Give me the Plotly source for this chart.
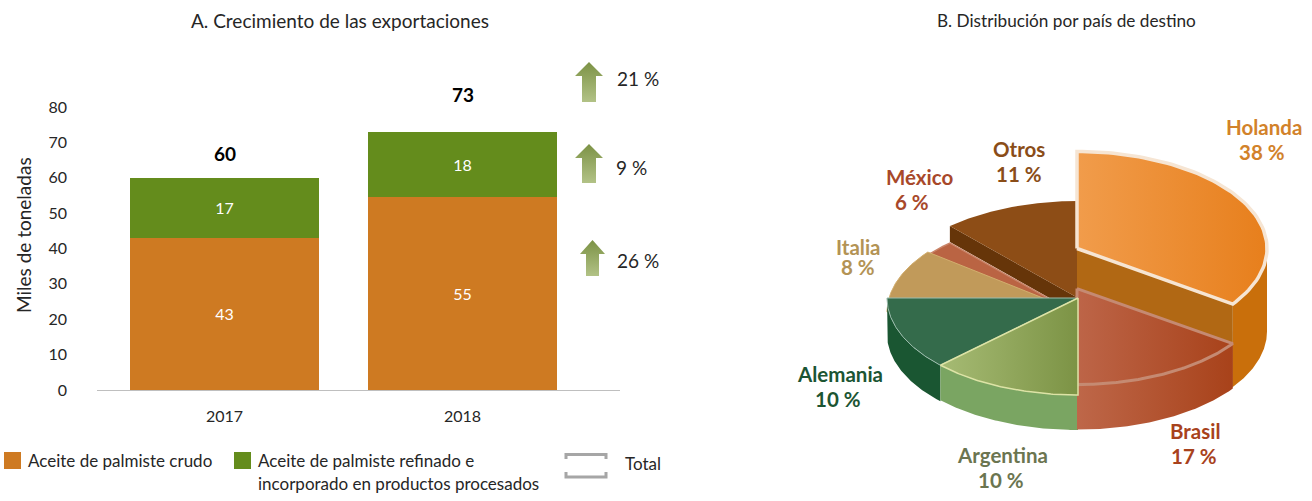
import numpy as np
import plotly.graph_objects as go

# ---------- data ----------
years = ["2017", "2018"]
crude = [43, 54.6]
refined = [17, 18.4]
totals = [60, 73]
growth_labels = ["21 %", "9 %", "26 %"]
countries = ["Holanda", "Brasil", "Argentina", "Alemania", "Italia", "México", "Otros"]
country_pct = [38, 17, 10, 10, 8, 6, 11]
# slice sizes as they appear in the perspective drawing
drawn_share = [34.7, 15.3, 12.8, 12.2, 10.6, 2.7, 11.7]

FONT = "Lato"
W, H = 1312, 501
GREY = "#262626"

fig = go.Figure()

# ---------- stacked bars ----------
for name, vals, col in [("Aceite de palmiste crudo", crude, "#CE7A22"),
                        ("Aceite de palmiste refinado", refined, "#648C1C")]:
    fig.add_trace(go.Bar(x=[0, 1], y=vals, name=name, marker=dict(color=col, line=dict(width=0)),
                         text=[f"{v:.0f}" for v in vals], textposition="inside",
                         insidetextanchor="middle", textangle=0,
                         textfont=dict(family=FONT, size=16, color="white"),
                         showlegend=False, xaxis="x", yaxis="y"))

# ---------- pixel canvas helpers ----------
def add_poly(xs, ys, fill=None, grad=None, line=None, lw=0):
    kw = dict(x=list(xs), y=list(ys), mode="lines", fill="toself", hoverinfo="skip",
              showlegend=False, xaxis="x2", yaxis="y2",
              line=dict(color=line or "rgba(0,0,0,0)", width=lw))
    if grad:
        kw["fillgradient"] = dict(type=grad[0], colorscale=[[0, grad[1]], [1, grad[2]]])
    else:
        kw["fillcolor"] = fill
    fig.add_trace(go.Scatter(**kw))

def arc(cx, cy, rx, ry, a, b, n=80):
    t = np.radians(np.linspace(a, b, n))
    return cx + rx * np.sin(t), cy - ry * np.cos(t)

def sector(cx, cy, rx, ry, a, b):
    x, y = arc(cx, cy, rx, ry, a, b)
    return np.r_[cx, x, cx], np.r_[cy, y, cy]

def outer_wall(cx, cy, rx, ry, a, b, h):
    x, y = arc(cx, cy, rx, ry, a, b)
    return np.r_[x, x[::-1], x[0]], np.r_[y, y[::-1] + h, y[0]]

def cut_wall(cx, cy, rx, ry, a, h):
    x, y = arc(cx, cy, rx, ry, a, a, 1)
    return [cx, x[0], x[0], cx, cx], [cy, y[0], y[0] + h, cy + h, cy]

# ---------- 3-D pie, angles come from drawn_share ----------
edges = np.r_[0, np.cumsum(drawn_share)] * 3.6
ang = {c: (edges[i], edges[i + 1]) for i, c in enumerate(countries)}
CX, CY, RX, RY = 1078, 298, 191, 97

a, b = ang["Otros"]
add_poly(*cut_wall(CX, CY, RX, RY, a, 16), fill="#663509")
add_poly(*sector(CX, CY, RX, RY, a, b), fill="#8D4D16")
a, b = ang["México"]
add_poly(*sector(CX, CY + 17, RX, RY, a, b), fill="#BA6443", line="#C98468", lw=1.5)
a, b = ang["Italia"]
add_poly(*sector(CX, CY + 14, RX, RY, a, b), fill="#C19A5A", line="#D2AE6E", lw=1)

a, b = ang["Holanda"]
HX, HY = CX - 1, CY - 49.5
add_poly(*outer_wall(HX, HY, 190, RY, 90, b, 83), fill="#C96F0B")
add_poly(*cut_wall(HX, HY, 190, RY, b, 83), fill="#B16814")
add_poly(*sector(HX, HY, 190, RY, a, b), grad=("horizontal", "#F19C4B", "#E77F1C"),
         line="#F6E5D3", lw=3.5)

a, b = ang["Alemania"]
add_poly(*outer_wall(CX, CY, RX, RY, a, b, 36), fill="#1A5632")
add_poly(*sector(CX, CY, RX, RY, a, b), fill="#346B4B", line="#9DBDAE", lw=1)

a, b = ang["Argentina"]
add_poly(*outer_wall(CX, CY, RX, RY, a, b, 35), fill="#7AA562")

a, b = ang["Brasil"]
BX, BY = CX - 1, CY - 9.4
add_poly(*outer_wall(BX, BY, 190, 96, a, b, 45), grad=("horizontal", "#BE6749", "#A8421A"))
add_poly(*sector(BX, BY, 190, 96, a, b), grad=("horizontal", "#BD6548", "#A8421A"),
         line="#C58A72", lw=3)

a, b = ang["Argentina"]
add_poly(*sector(CX, CY, RX, RY, a, b), grad=("horizontal", "#A6BB74", "#7C9345"),
         line="#DDE3A6", lw=1.5)

# ---------- growth arrows ----------
def arrow(x0, x1, sx0, sx1, top, neck, bottom):
    add_poly([(x0 + x1) / 2, x1, sx1, sx1, sx0, sx0, x0, (x0 + x1) / 2],
             [top, neck, neck, bottom, bottom, neck, neck, top],
             grad=("vertical", "#B2C286", "#7C9245"))

arrow(575, 603, 582, 596, 62, 76, 102)
arrow(575, 603, 582, 596, 144, 158, 183)
arrow(580, 605, 586, 599, 240, 254, 276)

# ---------- legend marks ----------
add_poly([4, 21, 21, 4, 4], [452, 452, 469, 469, 452], fill="#CE7A22")
add_poly([234, 251, 251, 234, 234], [452, 452, 469, 469, 452], fill="#648C1C")
fig.add_trace(go.Scatter(x=[566, 566, 606, 606], y=[459, 454.5, 454.5, 459], mode="lines",
                         line=dict(color="#A6A6A6", width=3), hoverinfo="skip", showlegend=False,
                         xaxis="x2", yaxis="y2"))
fig.add_trace(go.Scatter(x=[566, 566, 606, 606], y=[472, 477, 477, 472], mode="lines",
                         line=dict(color="#A6A6A6", width=3), hoverinfo="skip", showlegend=False,
                         xaxis="x2", yaxis="y2"))

# ---------- text ----------
anns = []
def txt(x, y, s, size=17, color=GREY, bold=False, anchor="center", angle=0):
    anns.append(dict(x=x, y=y, xref="x2", yref="y2", text=f"<b>{s}</b>" if bold else s,
                     showarrow=False, xanchor=anchor, yanchor="middle", textangle=angle,
                     font=dict(family=FONT, size=size, color=color)))

txt(340, 20, "A. Crecimiento de las exportaciones", size=19)
txt(1066, 20, "B. Distribución por país de destino", size=17.2)
txt(23, 235, "Miles de toneladas", size=19, angle=-90)
txt(224.5, 153, totals[0], size=19, color="black", bold=True)
txt(462.5, 94, totals[1], size=19, color="black", bold=True)
for (x, y), s in zip([(638, 78), (631, 167), (638, 260)], growth_labels):
    txt(x, y, s, size=19)
txt(26, 460, "Aceite de palmiste crudo", anchor="left")
txt(256, 460, "Aceite de palmiste refinado e", anchor="left")
txt(256, 483, "incorporado en productos procesados", anchor="left")
txt(623, 463, "Total", anchor="left")

label_pos = {"Holanda": (1264, 127, 1262, 152, "#D2822A"), "Brasil": (1195, 431, 1194, 456, "#A8421C"),
             "Argentina": (1002, 455, 1001, 480, "#6B7550"), "Alemania": (840, 374, 838, 399, "#1C5533"),
             "Italia": (858, 247, 858, 267, "#B39355"), "México": (919, 177, 912, 202, "#A8482A"),
             "Otros": (1019, 149, 1019, 174, "#8A4D18")}
for c, p in zip(countries, country_pct):
    x1, y1, x2, y2, col = label_pos[c]
    txt(x1, y1, c, size=20.5, color=col, bold=True)
    txt(x2, y2, f"{p} %", size=20.5, color=col, bold=True)

# ---------- layout ----------
fig.update_layout(
    width=W, height=H, margin=dict(l=0, r=0, t=0, b=0), barmode="stack", bargap=0.206,
    paper_bgcolor="white", plot_bgcolor="rgba(0,0,0,0)", annotations=anns,
    font=dict(family=FONT, size=16, color=GREY),
    xaxis=dict(domain=[97 / W, 620 / W], range=[-0.536, 1.662], tickmode="array", tickvals=[0, 1],
               ticktext=years, showgrid=False, zeroline=False, showline=True, linecolor="#BFBFBF",
               linewidth=1, ticks="", ticklabelstandoff=12, anchor="y", fixedrange=True, automargin=False),
    yaxis=dict(domain=[1 - 390 / H, 1 - 107 / H], range=[0, 80], tickvals=list(range(0, 81, 10)),
               showgrid=False, zeroline=False, showline=False, ticks="", ticklabelstandoff=29,
               anchor="x", fixedrange=True, automargin=False),
    xaxis2=dict(domain=[0, 1], range=[0, W], visible=False, fixedrange=True, anchor="y2", automargin=False),
    yaxis2=dict(domain=[0, 1], range=[H, 0], visible=False, fixedrange=True, anchor="x2", automargin=False),
)
fig.write_html("out.html", config={"displayModeBar": False},
               post_script="document.body.style.margin='0';")
